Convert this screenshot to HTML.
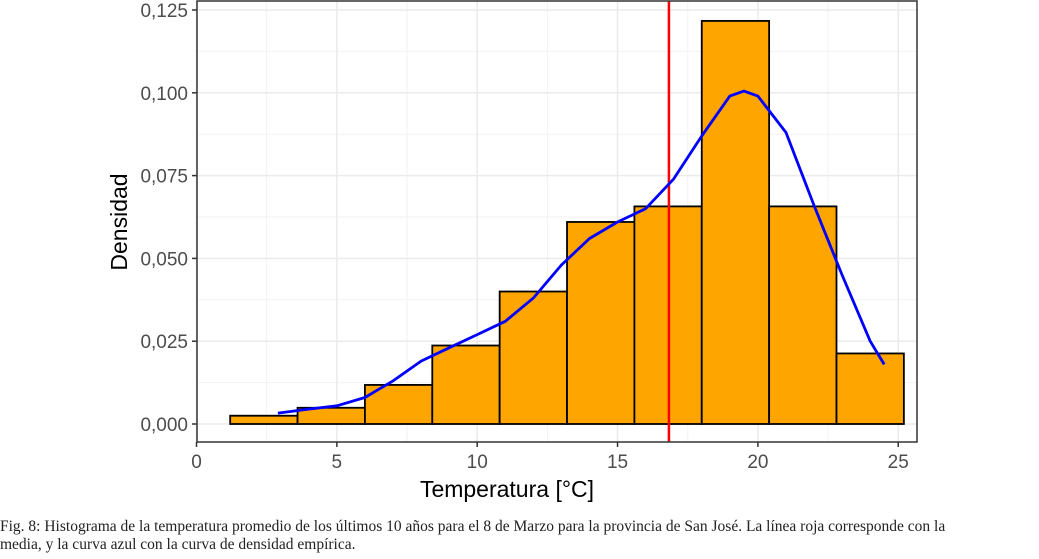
<!DOCTYPE html>
<html><head><meta charset="utf-8"><style>
body{margin:0;background:#fff;width:1039px;height:559px;overflow:hidden}
.cap{position:absolute;left:0;top:545px;font:15.5px "Liberation Serif",serif;color:#222;line-height:18px;white-space:nowrap}
</style></head><body>
<svg id="c" width="1039" height="545" style="position:absolute;left:0;top:0" font-family="Liberation Sans, sans-serif"></svg>
<div class="cap" style="top:518px">Fig. 8: Histograma de la temperatura promedio de los últimos 10 años para el 8 de Marzo para la provincia de San José. La línea roja corresponde con la<br>media, y la curva azul con la curva de densidad empírica.</div>
<script>
const binEdges=[1.2,3.6,6.0,8.4,10.8,13.2,15.6,18.0,20.4,22.8,25.2];
const densities=[0.0025,0.0049,0.0118,0.0237,0.0400,0.0610,0.0657,0.1217,0.0657,0.0213];
const meanTemp=16.83;
const curveX=[2.9,4,5,6,7,8,9,10,11,12,13,14,15,16,17,18,19,19.5,20,21,22,23,24,24.5];
const curveY=[0.0033,0.0045,0.0055,0.008,0.013,0.019,0.023,0.027,0.031,0.038,0.048,0.056,0.061,0.065,0.074,0.087,0.099,0.1005,0.099,0.088,0.066,0.045,0.025,0.018];
const xTicks=[0,5,10,15,20,25];
const yTicks=[0,0.025,0.05,0.075,0.1,0.125];
const yTickLabels=["0,000","0,025","0,050","0,075","0,100","0,125"];
const L=197,R=917,T=1,B=442;
const sx=v=>196.5+v*28.07, sy=v=>424-v*3312;
const svg=document.getElementById('c');const NS='http://www.w3.org/2000/svg';
function mk(t,a,p){const e=document.createElementNS(NS,t);for(const k in a)e.setAttribute(k,a[k]);(p||svg).appendChild(e);return e;}
// minor grid
for(let i=0;i<xTicks.length;i++){const v=xTicks[i]+2.5;if(sx(v)<R){const g=mk('line',{x1:sx(v),x2:sx(v),y1:T,y2:B,stroke:'#f2f2f2','stroke-width':1});
}}
for(let i=0;i<yTicks.length-1;i++){const v=yTicks[i]+0.0125;const g=mk('line',{x1:L,x2:R,y1:sy(v),y2:sy(v),stroke:'#f2f2f2','stroke-width':1});
}
xTicks.forEach(v=>{const g=mk('line',{x1:sx(v),x2:sx(v),y1:T,y2:B,stroke:'#ebebeb','stroke-width':1.5});

const t=mk('line',{x1:sx(v),x2:sx(v),y1:B,y2:B+5,stroke:'#333','stroke-width':1.5});

const l=mk('text',{x:sx(v),y:B+26,'text-anchor':'middle','font-size':19,fill:'#4d4d4d'});l.textContent=v;
});
yTicks.forEach((v,i)=>{const g=mk('line',{x1:L,x2:R,y1:sy(v),y2:sy(v),stroke:'#ebebeb','stroke-width':1.5});

const t=mk('line',{x1:L-5,x2:L,y1:sy(v),y2:sy(v),stroke:'#333','stroke-width':1.5});

const l=mk('text',{x:L-9,y:sy(v)+7,'text-anchor':'end','font-size':19,fill:'#4d4d4d'});l.textContent=yTickLabels[i];
});
densities.forEach((d,i)=>{const r=mk('rect',{x:sx(binEdges[i]),y:sy(d),width:sx(binEdges[i+1])-sx(binEdges[i]),height:sy(0)-sy(d),fill:'#ffa500',stroke:'#000','stroke-width':1.8});
});
const ml=mk('line',{x1:sx(meanTemp),x2:sx(meanTemp),y1:T,y2:B,stroke:'#ff0000','stroke-width':2.5});

let d='';curveX.forEach((x,i)=>{d+=(i?'L':'M')+sx(x).toFixed(1)+','+sy(curveY[i]).toFixed(1);});
const cp=mk('path',{d:d,fill:'none',stroke:'#0000ff','stroke-width':2.8,'stroke-linejoin':'round'});

const fr=mk('rect',{x:L,y:T,width:R-L,height:B-T,fill:'none',stroke:'#333','stroke-width':1.5});

const xt=mk('text',{x:(L+R)/2-50,y:497,'text-anchor':'middle','font-size':23,fill:'#000'});xt.textContent='Temperatura [°C]';

const yt=mk('text',{x:0,y:0,'text-anchor':'middle','font-size':23,fill:'#000',transform:'translate(127,222) rotate(-90)'});yt.textContent='Densidad';

</script>
</body></html>
